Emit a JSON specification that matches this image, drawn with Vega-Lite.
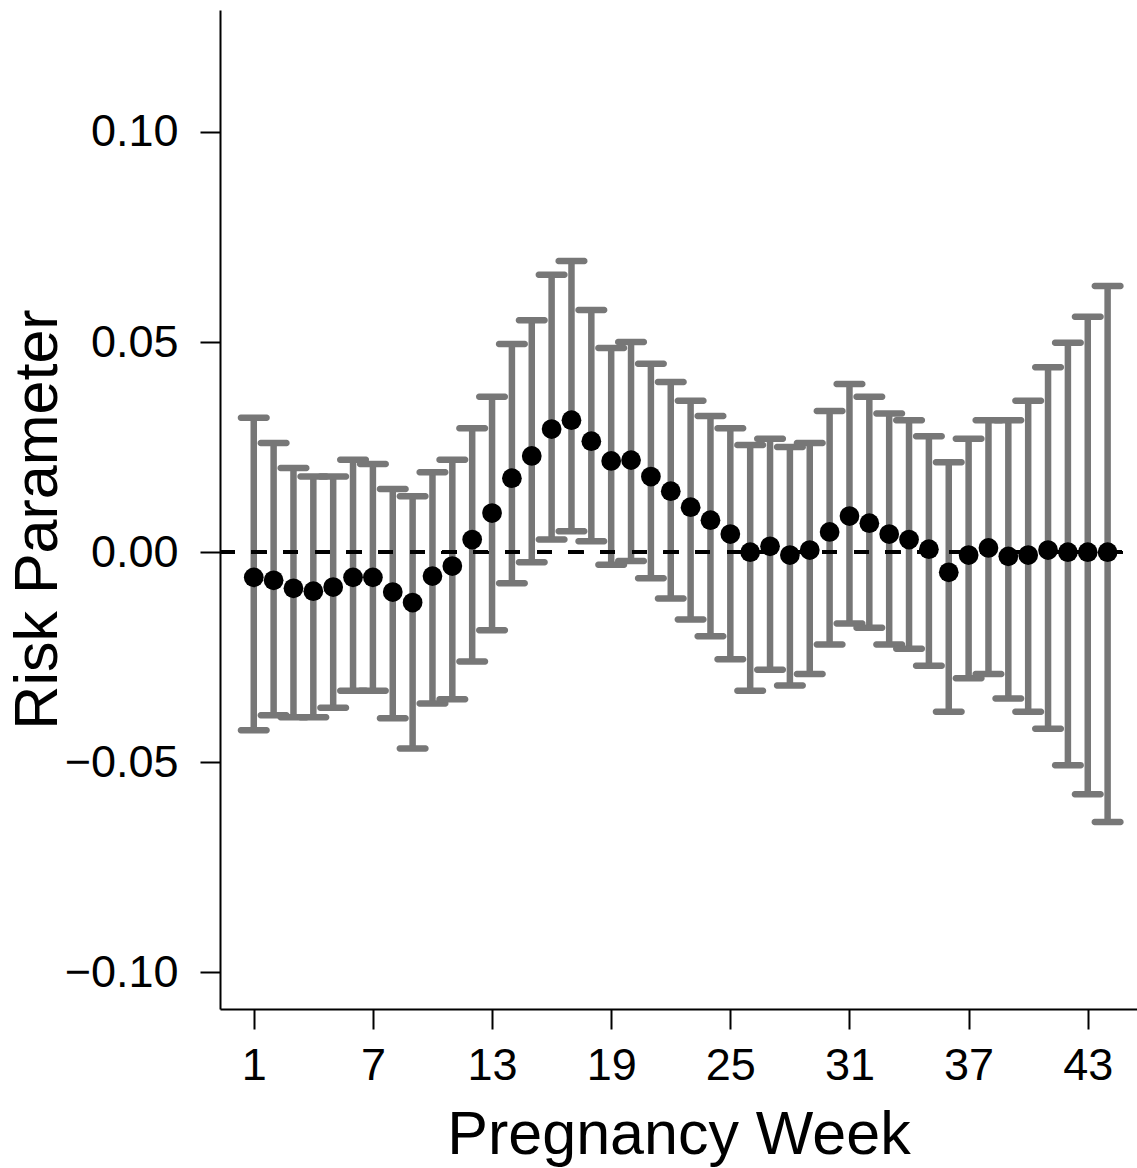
{
  "$schema": "https://vega.github.io/schema/vega-lite/v6.json",
  "autosize": {"type": "none"},
  "padding": {"left": 220, "top": 10, "right": 0, "bottom": 159},
  "width": 917,
  "height": 999,
  "background": "white",
  "config": {
    "view": {"stroke": null},
    "font": "Liberation Sans",
    "axis": {
      "grid": false,
      "domainColor": "black",
      "domainWidth": 2,
      "tickColor": "black",
      "tickWidth": 2,
      "tickSize": 20,
      "labelColor": "black",
      "labelFont": "Liberation Sans",
      "labelFontSize": 45,
      "titleFont": "Liberation Sans",
      "titleFontSize": 61,
      "titleFontWeight": "normal",
      "titleColor": "black"
    }
  },
  "data": {
    "values": [
      {"week": 1, "est": -0.006, "lo": -0.0424, "hi": 0.032},
      {"week": 2, "est": -0.0067, "lo": -0.0388, "hi": 0.026},
      {"week": 3, "est": -0.0086, "lo": -0.0393, "hi": 0.020},
      {"week": 4, "est": -0.0093, "lo": -0.0393, "hi": 0.018},
      {"week": 5, "est": -0.0083, "lo": -0.037, "hi": 0.018},
      {"week": 6, "est": -0.006, "lo": -0.033, "hi": 0.022},
      {"week": 7, "est": -0.006, "lo": -0.033, "hi": 0.021},
      {"week": 8, "est": -0.0095, "lo": -0.0395, "hi": 0.015},
      {"week": 9, "est": -0.012, "lo": -0.0467, "hi": 0.0133},
      {"week": 10, "est": -0.0057, "lo": -0.036, "hi": 0.019},
      {"week": 11, "est": -0.0033, "lo": -0.035, "hi": 0.022},
      {"week": 12, "est": 0.003, "lo": -0.026, "hi": 0.0295},
      {"week": 13, "est": 0.0093, "lo": -0.0186, "hi": 0.037},
      {"week": 14, "est": 0.0176, "lo": -0.0074, "hi": 0.0495},
      {"week": 15, "est": 0.0229, "lo": -0.0024, "hi": 0.0552},
      {"week": 16, "est": 0.0293, "lo": 0.003, "hi": 0.066},
      {"week": 17, "est": 0.0314, "lo": 0.005, "hi": 0.0693},
      {"week": 18, "est": 0.0264, "lo": 0.0026, "hi": 0.0576},
      {"week": 19, "est": 0.0217, "lo": -0.003, "hi": 0.0486},
      {"week": 20, "est": 0.0219, "lo": -0.0021, "hi": 0.050},
      {"week": 21, "est": 0.018, "lo": -0.0062, "hi": 0.0448},
      {"week": 22, "est": 0.0145, "lo": -0.011, "hi": 0.0405},
      {"week": 23, "est": 0.0107, "lo": -0.016, "hi": 0.036},
      {"week": 24, "est": 0.0076, "lo": -0.020, "hi": 0.0324},
      {"week": 25, "est": 0.0043, "lo": -0.0255, "hi": 0.0295},
      {"week": 26, "est": 0.0, "lo": -0.033, "hi": 0.0255},
      {"week": 27, "est": 0.0014, "lo": -0.028, "hi": 0.027},
      {"week": 28, "est": -0.0007, "lo": -0.0317, "hi": 0.025},
      {"week": 29, "est": 0.0005, "lo": -0.029, "hi": 0.026},
      {"week": 30, "est": 0.0048, "lo": -0.022, "hi": 0.0336},
      {"week": 31, "est": 0.0086, "lo": -0.017, "hi": 0.040},
      {"week": 32, "est": 0.0069, "lo": -0.018, "hi": 0.037},
      {"week": 33, "est": 0.0043, "lo": -0.022, "hi": 0.033},
      {"week": 34, "est": 0.003, "lo": -0.023, "hi": 0.0314},
      {"week": 35, "est": 0.0007, "lo": -0.027, "hi": 0.0276},
      {"week": 36, "est": -0.0048, "lo": -0.038, "hi": 0.0214},
      {"week": 37, "est": -0.0007, "lo": -0.030, "hi": 0.027},
      {"week": 38, "est": 0.001, "lo": -0.029, "hi": 0.0314},
      {"week": 39, "est": -0.001, "lo": -0.0348, "hi": 0.0314},
      {"week": 40, "est": -0.0007, "lo": -0.038, "hi": 0.036},
      {"week": 41, "est": 0.0005, "lo": -0.042, "hi": 0.044},
      {"week": 42, "est": 0.0, "lo": -0.0507, "hi": 0.0498},
      {"week": 43, "est": 0.0, "lo": -0.0576, "hi": 0.056},
      {"week": 44, "est": 0.0, "lo": -0.0642, "hi": 0.0633}
    ]
  },
  "encoding": {
    "x": {
      "field": "week",
      "type": "quantitative",
      "scale": {"domain": [-0.70, 45.48], "nice": false, "zero": false},
      "axis": {
        "title": "Pregnancy Week",
        "values": [1, 7, 13, 19, 25, 31, 37, 43],
        "labelPadding": 14,
        "labelFlush": false,
        "labelOverlap": false,
        "titleBaseline": "alphabetic",
        "titleY": 144
      }
    }
  },
  "layer": [
    {
      "mark": {"type": "rule", "color": "#777777", "strokeWidth": 6.5},
      "encoding": {
        "y": {
          "field": "lo",
          "type": "quantitative",
          "scale": {"domain": [-0.1087, 0.1290], "nice": false, "zero": false},
          "axis": {
            "title": "Risk Parameter",
            "values": [-0.1, -0.05, 0, 0.05, 0.1],
            "format": ".2f",
            "labelPadding": 22,
            "labelFlush": false,
            "labelOverlap": false,
            "titleBaseline": "alphabetic",
            "titleAngle": 270,
            "titleX": -164,
            "titleY": 509
          }
        },
        "y2": {"field": "hi"}
      }
    },
    {
      "mark": {"type": "tick", "color": "#777777", "orient": "horizontal", "size": 32, "thickness": 6.5, "cornerRadius": 3, "opacity": 1},
      "encoding": {"y": {"field": "hi", "type": "quantitative"}}
    },
    {
      "mark": {"type": "tick", "color": "#777777", "orient": "horizontal", "size": 32, "thickness": 6.5, "cornerRadius": 3, "opacity": 1},
      "encoding": {"y": {"field": "lo", "type": "quantitative"}}
    },
    {
      "mark": {"type": "rule", "color": "black", "strokeWidth": 3, "strokeDash": [14.5, 17.2]},
      "encoding": {
        "x": {"datum": -0.70},
        "x2": {"datum": 45.13},
        "y": {"datum": 0}
      }
    },
    {
      "mark": {"type": "circle", "color": "black", "size": 390, "opacity": 1},
      "encoding": {"y": {"field": "est", "type": "quantitative"}}
    }
  ]
}
